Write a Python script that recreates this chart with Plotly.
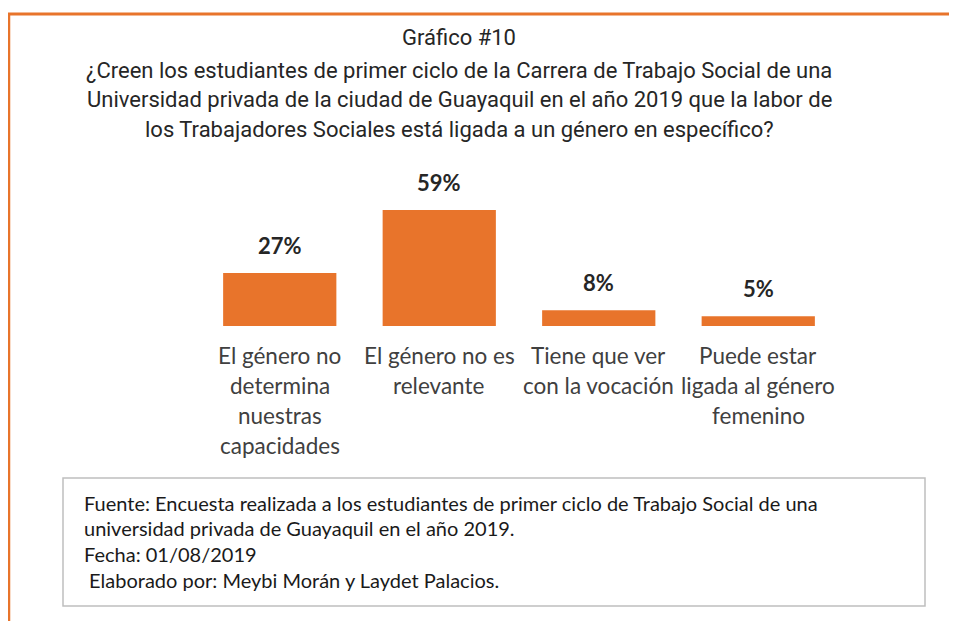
import plotly.graph_objects as go

# ---- data ----
categories = [
    "El género no<br>determina<br>nuestras<br>capacidades",
    "El género no es<br>relevante",
    "Tiene que ver<br>con la vocación",
    "Puede estar<br>ligada al género<br>femenino",
]
values = [27, 59, 8, 5]
value_labels = ["27%", "59%", "8%", "5%"]

title_lines = [
    "Gráfico #10",
    "¿Creen los estudiantes de primer ciclo de la Carrera de Trabajo Social de una",
    "Universidad privada de la ciudad de Guayaquil en el año 2019 que la labor de",
    "los Trabajadores Sociales está ligada a un género en específico?",
]
source_lines = [
    "Fuente: Encuesta realizada a los estudiantes de primer ciclo de Trabajo Social de una",
    "universidad privada de Guayaquil en el año 2019.",
    "Fecha: 01/08/2019",
    " Elaborado por: Meybi Morán y Laydet Palacios.",
]

# ---- layout geometry (page pixels; the page body adds an 8px offset) ----
OFF = 8
W, H = 957 - OFF, 621 - OFF
PL, PR, PT, PB = 200, 838, 170, 326  # plot area edges in page px
ORANGE = "#E8742B"
FONT = "Lato, 'Open Sans', sans-serif"


def px_x(px):
    return (px - PL) / (PR - PL)


def px_y(py):
    return (PB - py) / (PB - PT)


fig = go.Figure()
fig.add_trace(go.Bar(
    x=list(range(len(categories))),
    y=values,
    marker=dict(color=ORANGE, line=dict(width=0)),
    hoverinfo="skip",
))

annotations = []
# value labels
for i, (v, lab) in enumerate(zip(values, value_labels)):
    annotations.append(dict(
        x=i, y=v, xref="x", yref="y", text=lab, showarrow=False,
        yanchor="bottom", yshift=12,
        font=dict(family=FONT, size=22, color="#262626", weight="bold"),
    ))
# category labels (one annotation per line)
for i, cat in enumerate(categories):
    for j, line in enumerate(cat.split("<br>")):
        annotations.append(dict(
            x=i, xref="x", y=px_y(355 + 30 * j), yref="paper", text=line,
            showarrow=False, xanchor="center", yanchor="middle",
            font=dict(family=FONT, size=22.5, color="#404040"),
        ))
# title lines
title_y = [38, 70, 99, 129]
for line, py in zip(title_lines, title_y):
    annotations.append(dict(
        x=px_x(459), xref="paper", y=px_y(py), yref="paper", text=line,
        showarrow=False, xanchor="center", yanchor="middle",
        font=dict(family="Roboto, sans-serif", size=22, color="#262626"),
    ))
# source box lines
src_y = [503, 528, 554, 580]
for line, py in zip(source_lines, src_y):
    annotations.append(dict(
        x=px_x(82), xref="paper", y=px_y(py), yref="paper", text=line,
        showarrow=False, xanchor="left", yanchor="middle",
        font=dict(family=FONT, size=20, color="#1a1a1a"),
    ))

shapes = [
    # orange frame (top and left)
    dict(type="line", xref="paper", yref="paper", x0=px_x(8), x1=px_x(957),
         y0=px_y(14), y1=px_y(14), line=dict(color=ORANGE, width=3)),
    dict(type="line", xref="paper", yref="paper", x0=px_x(9), x1=px_x(9),
         y0=px_y(14), y1=px_y(621), line=dict(color=ORANGE, width=2.5)),
    # source box
    dict(type="rect", xref="paper", yref="paper", x0=px_x(63), x1=px_x(925),
         y0=px_y(478), y1=px_y(606), line=dict(color="#BFBFBF", width=1.5),
         fillcolor="rgba(0,0,0,0)"),
]

fig.update_layout(
    width=W, height=H,
    margin=dict(l=PL - OFF, r=(957 - PR), t=PT - OFF, b=621 - PB, pad=0),
    paper_bgcolor="white", plot_bgcolor="white",
    showlegend=False, bargap=0.29,
    xaxis=dict(visible=False, range=[-0.5, 3.5]),
    yaxis=dict(visible=False, range=[0, 79.35]),
    annotations=annotations, shapes=shapes,
)

fig.write_html("out.html")
